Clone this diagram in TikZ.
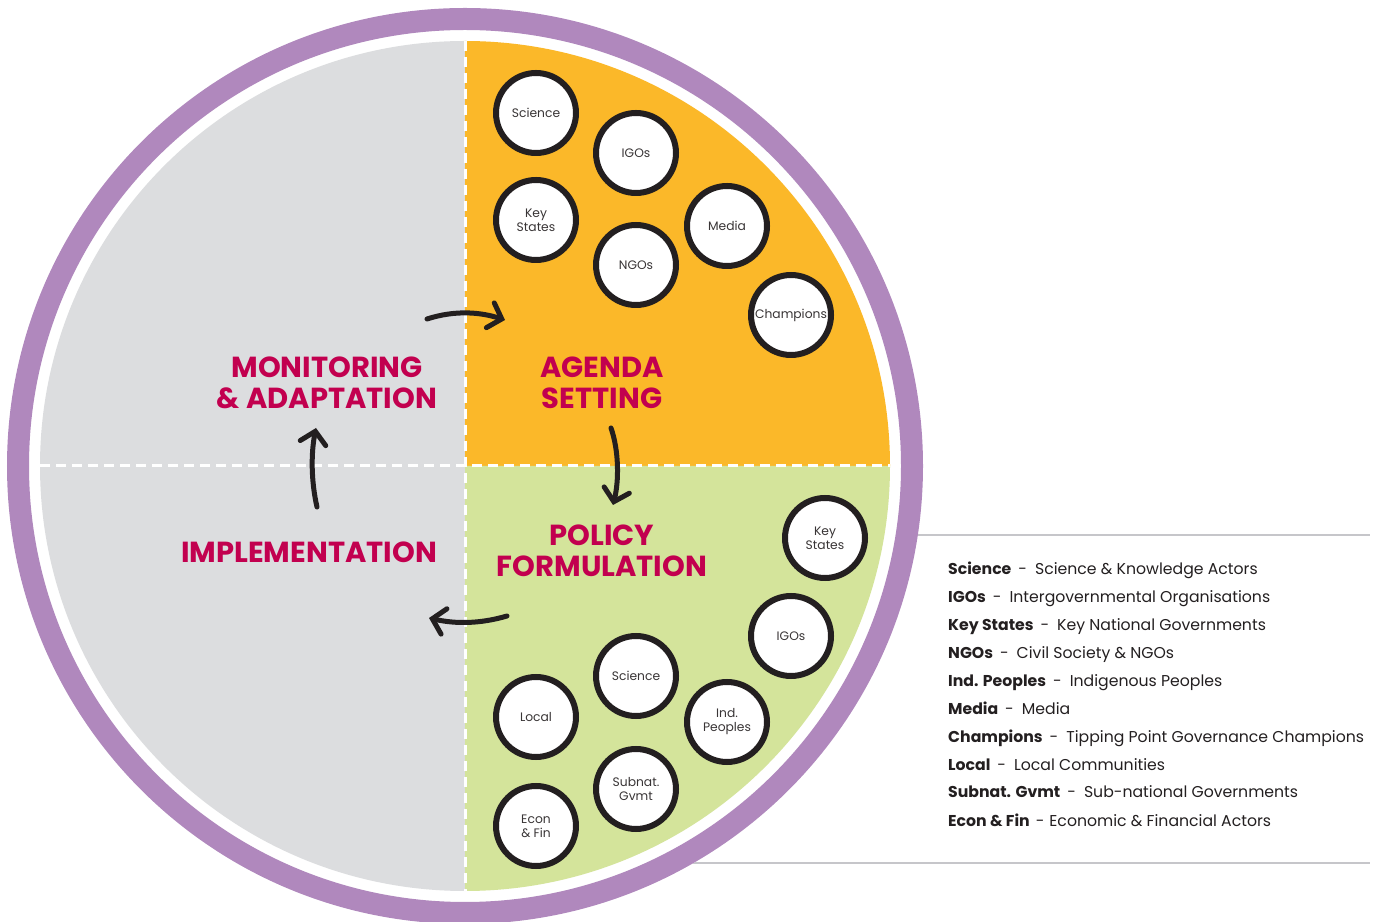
\documentclass[tikz,border=0pt]{standalone}
\usepackage{fontspec}
\setmainfont{Poppins}
\usetikzlibrary{arrows.meta}
\definecolor{ringpurple}{HTML}{B088BD}
\definecolor{quadgrey}{HTML}{DCDDDF}
\definecolor{agendaorange}{HTML}{FBB829}
\definecolor{policygreen}{HTML}{D4E49B}
\definecolor{titlemagenta}{HTML}{C2004F}
\definecolor{inkdark}{HTML}{231F20}
\definecolor{rulegrey}{HTML}{C6C6CA}

\begin{document}
\begin{tikzpicture}[x=1pt,y=1pt,
  actor/.style={circle, draw=inkdark, line width=6pt, fill=white, minimum size=80pt,
    inner sep=0pt, align=center, font=\fontsize{12.3}{14}\selectfont, text=inkdark!90},
  stage/.style={align=center, text=titlemagenta, inner sep=0pt,
    font=\fontsize{29}{31}\selectfont\bfseries},
  cyclearrow/.style={line width=5pt, draw=inkdark, line cap=round,
    -{Straight Barb[length=12pt,width=26pt,line cap=round]}},
  legend/.style={anchor=base west, text=inkdark, inner sep=0pt,
    font=\fontsize{15.7}{18}\selectfont},
  divider/.style={draw=white, line width=3pt, dash pattern=on 10pt off 6pt},
  rule/.style={draw=rulegrey, line width=1.5pt},
]
\useasboundingbox (0,0) rectangle (1381,921);
\coordinate (c) at (465,455);

% legend frame rules, partly hidden behind the wheel
\draw[rule] (465,386) -- (1370,386);
\draw[rule] (465,58) -- (1370,58);
\fill[white] (c) circle (458);

% outer ring
\draw[ringpurple, line width=22pt] (c) circle (447);

% the four quadrants
\fill[quadgrey] (c) -- ++(-425,0) arc (180:90:425) -- cycle;
\fill[quadgrey] (c) -- ++(0,-425) arc (270:180:425) -- cycle;
\fill[agendaorange] (c) -- ++(0,425) arc (90:0:425) -- cycle;
\fill[policygreen] (c) -- ++(425,0) arc (0:-90:425) -- cycle;
\draw[divider] (465,880) -- (465,30);
\draw[divider] (40,455) -- (890,455);

% stage titles
\node[stage] (monitor) at (327,538) {MONITORING\\\& ADAPTATION};
\node[stage] (agenda) at (602,538) {AGENDA\\SETTING};
\node[stage] (policy) at (602,370) {POLICY\\FORMULATION};
\node[stage] (implement) at (309,369) {IMPLEMENTATION};

% cycle arrows
\coordinate (mon-out) at (427,602);
\coordinate (age-in) at (505,601);
\coordinate (age-out) at (611,493);
\coordinate (pol-in) at (613,416);
\coordinate (pol-out) at (507,305);
\coordinate (imp-in) at (429,303);
\coordinate (imp-out) at (317,414);
\coordinate (mon-in) at (316,493);
\draw[cyclearrow] (mon-out) .. controls (455,611) and (480,609) .. (age-in);
\draw[cyclearrow] (age-out) .. controls (619,470) and (619,440) .. (pol-in);
\draw[cyclearrow] (pol-out) .. controls (480,297) and (455,297) .. (imp-in);
\draw[cyclearrow] (imp-out) .. controls (311,440) and (311,468) .. (mon-in);

% agenda-setting actors
\node[actor] (a-sci) at (536,808) {Science};
\node[actor] (a-igo) at (636,768) {IGOs};
\node[actor] (a-key) at (536,701) {Key\\States};
\node[actor] (a-ngo) at (636,656) {NGOs};
\node[actor] (a-med) at (727,695) {Media};
\node[actor] (a-cha) at (791,606) {Champions};

% policy-formulation actors
\node[actor] (p-key) at (825,383) {Key\\States};
\node[actor] (p-igo) at (791,285) {IGOs};
\node[actor] (p-sci) at (636,245) {Science};
\node[actor] (p-loc) at (536,204) {Local};
\node[actor] (p-ind) at (727,199) {Ind.\\Peoples};
\node[actor] (p-sub) at (636,132) {Subnat.\\Gvmt};
\node[actor] (p-eco) at (536,95) {Econ\\\& Fin};

% legend
\node[legend] (l1) at (948,346) {\textbf{Science}\hspace{7pt}-\hspace{8pt}Science \& Knowledge Actors};
\node[legend] (l2) at (948,318) {\textbf{IGOs}\hspace{7pt}-\hspace{8pt}Intergovernmental Organisations};
\node[legend] (l3) at (948,290) {\textbf{Key States}\hspace{7pt}-\hspace{8pt}Key National Governments};
\node[legend] (l4) at (948,262) {\textbf{NGOs}\hspace{7pt}-\hspace{8pt}Civil Society \& NGOs};
\node[legend] (l5) at (948,234) {\textbf{Ind. Peoples}\hspace{7pt}-\hspace{8pt}Indigenous Peoples};
\node[legend] (l6) at (948,206) {\textbf{Media}\hspace{7pt}-\hspace{8pt}Media};
\node[legend] (l7) at (948,178) {\textbf{Champions}\hspace{7pt}-\hspace{8pt}Tipping Point Governance Champions};
\node[legend] (l8) at (948,150) {\textbf{Local}\hspace{7pt}-\hspace{8pt}Local Communities};
\node[legend] (l9) at (948,123) {\textbf{Subnat. Gvmt}\hspace{7pt}-\hspace{8pt}Sub-national Governments};
\node[legend] (l10) at (948,95) {\textbf{Econ \& Fin}\hspace{6pt}-\hspace{5pt}Economic \& Financial Actors};
\end{tikzpicture}
\end{document}
